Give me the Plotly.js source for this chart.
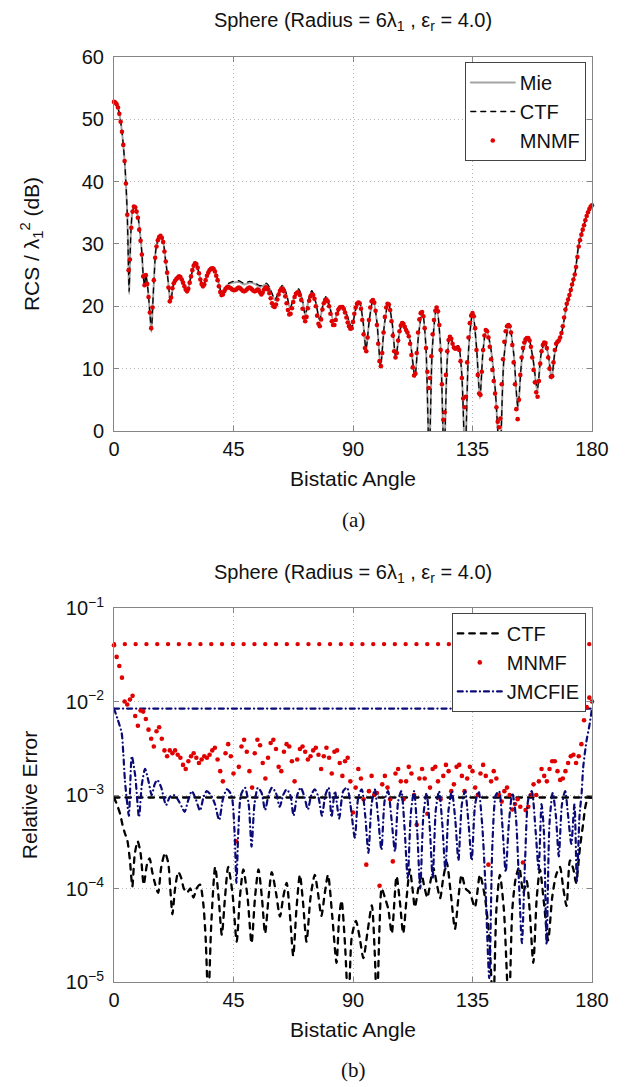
<!DOCTYPE html>
<html><head><meta charset="utf-8">
<script src="https://cdn.plot.ly/plotly-3.0.1.min.js"></script>
<style>
html,body{margin:0;padding:0;background:#fff;}
#chart{width:631px;height:1087px;}
path.js-line{stroke-linecap:round;}
</style>
</head><body><div id="chart"></div>
<script>
// ---------- (a) RCS ----------
const rcsAngles = [0,1,2,3,4,4.5,5,5.4,5.7,6.0,6.4,6.9,7.7,8.5,9.2,9.8,10.5,11.0,11.5,12.0,12.6,13.2,13.7,14.1,14.6,15.1,15.8,16.8,17.7,18.6,19.3,20.2,20.8,21.2,21.7,22.3,23.4,24.6,26.1,27.5,29.0,30.7,32.2,33.5,35.4,37.3,39.1,40.7,42.6,44.8,47,49,51,53,55,57.5,59,60.6,62,63.5,65,66.3,68,69.5,71,72.0,73.3,74.5,76,77.4,78.8,79.9,81.3,82.8,84.5,86.1,87.8,89.5,91.0,92.4,93.8,94.9,96.2,97.6,99.0,100.4,101.8,103.3,104.7,106.1,107.4,108.7,110.2,111.5,113.3,114.7,116.1,117.4,118.7,119.9,121.5,122.9,124.3,125.5,126.5,128.4,129.6,130.9,132.2,133.6,135.1,136.5,137.8,139.0,140.2,141.8,143.5,145.3,146.9,148.8,150.5,152.1,153.9,156.0,157.8,159.4,160.9,162.3,163.6,164.8,166.0,167.2,168.6,170.4,171.7,173.6,174.9,176,177,178,179,180];
const mieDb = [52.8,52.5,50.9,48.0,43.3,39.7,34.7,27.0,22.0,27.0,32.2,35.0,36.1,35.3,33.9,31.8,28.6,25.0,23.4,25.0,23.4,20.6,17.8,15.9,20.3,24.6,29.2,30.9,31.3,30.2,27.8,24.8,22.2,20.6,21.6,23.3,24.3,24.9,23.8,22.3,24.8,27.1,25.0,23.2,25.3,26.3,24.3,21.9,23.4,23.8,23.9,23.5,23.8,23.6,23.1,23.5,22.5,21.0,22.2,23.3,21.8,19.7,21.6,22.7,20.8,18.6,21.0,22.4,20.6,17.8,20.4,21.5,19.8,17.5,19.3,20.0,18.5,16.6,19.5,20.7,17.5,13.0,18.0,21.1,17.5,10.3,17.0,20.5,17.5,11.7,15.5,17.4,16.1,14.5,8.6,15.5,19.2,14.0,-4,13.5,19.9,14.0,-4,11.5,15.1,13.3,13.6,9.5,-4,13.5,19.0,13.5,5.2,13.0,16.3,13.5,7.0,-4,12.0,17.1,12.5,3.5,12.5,15.0,11.5,6.3,12.5,14.2,12.0,8.3,12.5,14.2,15.8,20.0,22.1,25.3,29.6,31.6,33.1,34.5,35.6,36.2];
const ctfDb = [52.8,52.5,50.9,48.0,43.3,39.7,34.7,27.2,22.4,27.2,32.2,35.0,36.1,35.3,33.9,31.8,28.6,25.0,23.4,25.0,23.4,20.6,17.9,16.2,20.3,24.6,29.2,30.9,31.3,30.2,27.8,24.8,22.2,20.7,21.6,23.3,24.3,24.9,23.8,22.4,24.8,27.1,25.0,23.3,25.3,26.3,24.3,22.0,23.5,24.0,24.1,23.7,24.0,23.8,23.3,23.7,22.6,21.1,22.3,23.4,21.9,19.8,21.7,22.8,20.9,18.7,21.1,22.5,20.6,17.9,20.4,21.6,19.8,17.6,19.3,20.1,18.5,16.7,19.5,20.8,17.5,13.2,18.0,21.2,17.5,10.5,17.0,20.6,17.5,11.9,15.5,17.5,16.1,14.5,8.8,15.5,19.3,14.0,-4,13.5,20.0,14.0,-4,11.5,15.2,13.4,13.7,9.5,-4,13.5,19.1,13.5,5.6,13.0,16.4,13.5,7.0,-4,12.0,17.2,12.5,4.0,12.5,15.1,11.5,6.8,12.5,14.3,12.0,8.6,12.5,14.2,15.8,20.0,22.1,25.3,29.6,31.6,33.1,34.5,35.6,36.2];
// MNMF samples every 0.5 degree, 0 ... 180
const mnmfDb = [
52.8,52.7,52.4,51.9,50.9,49.6,48.0,45.9,43.3,39.7,
34.7,25.8,27.5,32.6,35.2,36.0,35.9,35.2,34.2,32.3,
30.5,28.3,24.8,23.4,25.0,23.6,21.5,19.0,16.5,19.8,
24.2,27.8,29.6,30.6,31.1,31.3,31.0,30.3,28.8,27.2,
25.4,23.0,20.8,21.4,22.9,23.7,24.1,24.4,24.6,24.8,
24.7,24.3,23.8,23.2,22.7,22.4,22.8,23.8,24.8,25.8,
26.5,26.9,26.8,26.2,25.3,24.3,23.6,23.2,23.5,24.2,
24.9,25.4,25.8,26.0,26.1,26.0,25.6,24.9,24.2,23.2,
22.3,21.8,21.9,22.4,22.8,23.0,23.1,23.0,22.9,22.7,
22.6,22.6,22.7,22.9,23.0,22.9,22.7,22.5,22.4,22.5,
22.7,22.9,23.0,22.9,22.7,22.5,22.4,22.5,22.7,22.6,
22.2,21.9,22.2,22.7,23.0,23.0,22.7,22.1,21.3,20.5,
20.0,19.9,20.3,21.1,21.9,22.5,22.8,22.8,22.4,21.6,
20.5,19.4,18.7,18.8,19.7,20.7,21.5,22.0,22.2,22.2,
21.8,21.0,19.6,18.2,17.6,18.3,19.7,20.9,21.6,21.9,
21.8,21.2,20.0,18.5,17.2,16.8,17.9,19.5,20.5,21.0,
21.1,20.8,20.0,18.8,17.6,17.0,17.0,17.8,18.8,19.5,
19.8,19.9,19.9,19.6,19.0,18.2,17.4,16.8,16.4,16.5,
17.5,18.8,19.8,20.4,20.6,20.5,19.6,17.8,15.5,13.3,
12.8,15.0,17.8,19.8,20.8,21.0,20.6,19.3,17.0,14.0,
11.2,10.4,12.5,15.8,18.3,19.8,20.4,20.3,19.4,17.6,
15.3,12.8,11.8,12.5,14.5,16.0,16.9,17.3,17.2,16.7,
16.2,15.8,15.2,14.0,12.2,10.2,8.9,9.2,12.5,15.8,
17.9,18.9,19.1,18.4,16.5,13.3,9.5,6.9,8.5,12.0,
15.5,17.8,19.3,19.8,19.2,17.0,13.0,7.5,1.8,3.0,
9.0,12.8,14.6,15.1,14.8,14.0,13.4,13.2,13.3,13.4,
13.0,11.2,8.5,5.2,3.8,5.5,11.0,15.0,17.3,18.5,
18.9,18.4,16.5,13.0,9.0,6.0,5.8,9.5,13.0,15.3,
16.2,16.0,15.0,13.5,11.5,9.8,8.0,6.0,3.8,1.5,
0.6,2.0,7.5,11.5,14.3,16.0,16.8,17.0,16.8,15.8,
13.8,11.0,7.5,3.5,1.9,5.0,9.0,11.8,13.3,14.2,
14.7,14.9,14.9,14.5,13.5,11.8,9.8,7.8,6.2,5.5,
8.0,10.8,12.8,13.8,14.2,14.1,13.3,11.8,10.0,8.7,
8.8,11.0,13.0,14.0,14.3,14.5,15.0,15.7,16.8,18.2,
19.5,20.4,21.1,21.8,22.6,23.5,24.3,25.1,26.3,27.9,
29.6,30.6,31.5,32.3,33.0,33.8,34.5,35.1,35.6,36.0,
36.2];
const mnmfAngles = [];
for (let i = 0; i < mnmfDb.length; i++) mnmfAngles.push(i * 0.5);

// ---------- (b) Relative error ----------
const ctfErrAngles = [0,1.2,2.3,3.2,4.1,5.0,6.0,6.9,7.8,8.9,10.0,11.2,12.4,13.4,14.4,15.2,16.6,17.8,19.2,20.4,21.3,22.0,23.0,24.2,25.3,26.3,27.5,28.7,29.9,31.1,32.4,33.6,34.5,35.5,36.6,38.1,39.4,40.6,41.8,43.0,44.6,46.2,47.4,48.7,50.3,51.8,53.1,54.4,55.7,56.9,58.2,59.4,61.0,62.5,63.7,65.0,66.3,67.5,68.7,70.0,71.2,72.5,74.0,75.6,76.8,78.1,79.4,80.6,82.2,83.8,84.8,85.7,87.0,88.3,89.5,91.1,92.5,93.9,95.5,97.1,98.2,99.0,100.0,100.8,102.0,103.3,104.6,106.4,107.7,108.9,110.2,111.4,112.4,113.3,114.6,115.8,117.0,118.0,119.2,120.3,121.6,122.8,124.0,125.3,126.8,128.4,129.7,130.9,132.4,134.0,135.9,137.8,139.7,141.3,142.8,144.0,145.3,146.8,148.7,150.0,151.3,152.6,154.1,155.4,156.5,157.9,159.2,160.4,161.9,163.5,165.0,166.5,167.9,169.2,170.4,171.7,173.0,174.0,175.5,176.7,177.5,178.6,179.3,180];
const ctfErr = [9.4e-4,7.8e-4,6.3e-4,4.8e-4,3.9e-4,3.3e-4,2.0e-4,1.05e-4,2.3e-4,3.2e-4,2.4e-4,1.1e-4,1.8e-4,2.1e-4,1.5e-4,1.2e-4,9.0e-5,1.7e-4,2.4e-4,1.9e-4,9.0e-5,5.3e-5,1.0e-4,1.5e-4,1.3e-4,1.0e-4,9.0e-5,1.0e-4,8.0e-5,1.0e-4,1.1e-4,7.0e-5,3.0e-5,6.0e-6,4.0e-5,1.7e-4,8.0e-5,3.2e-5,8.0e-5,1.7e-4,9.0e-5,2.7e-5,8.0e-5,1.6e-4,8.0e-5,2.6e-5,8.0e-5,1.6e-4,8.0e-5,3.3e-5,8.0e-5,1.5e-4,9.0e-5,5.0e-5,8.0e-5,1.15e-4,5.0e-5,1.9e-5,6.0e-5,1.4e-4,7.0e-5,2.7e-5,8.0e-5,1.4e-4,9.0e-5,5.1e-5,9.0e-5,1.4e-4,5.0e-5,1.6e-5,5.0e-5,7.4e-5,2.5e-5,5.0e-6,3.0e-5,4.5e-5,3.0e-5,1.8e-5,3.5e-5,6.6e-5,2.0e-5,5.0e-6,4.0e-5,1.0e-4,8.0e-5,6.0e-5,3.3e-5,1.35e-4,7.0e-5,3.3e-5,8.0e-5,1.6e-4,1.0e-4,6.3e-5,1.0e-4,1.4e-4,1.0e-4,8.0e-5,1.2e-4,1.65e-4,1.1e-4,7.9e-5,1.3e-4,1.9e-4,9.0e-5,3.7e-5,8.0e-5,1.4e-4,1.0e-4,9.0e-5,6.3e-5,1.4e-4,8.0e-5,3.0e-5,5.0e-6,6.0e-5,1.4e-4,6.0e-5,5.0e-6,6.0e-5,1.3e-4,1.7e-4,9.0e-5,1.2e-4,6.0e-5,1.6e-5,8.0e-5,1.6e-4,7.0e-5,2.8e-5,8.0e-5,1.4e-4,1.7e-4,1.0e-4,6.5e-5,2.0e-4,1.6e-4,1.15e-4,2.8e-4,5.0e-4,7.5e-4,9.5e-4,9.4e-4,9.4e-4];
const jmcfieAngles = [0,1.5,2.9,3.5,4.1,5.0,5.6,6.7,8.0,9.4,10.5,11.7,13.0,14.2,15.3,16.3,17.8,19.6,21.0,22.5,24.0,25.5,26.6,27.8,29.3,30.8,32.4,33.7,34.9,36.5,38.0,39.6,41.0,42.5,44.2,45.4,46.1,46.8,47.8,49.3,50.7,51.8,52.9,54.2,55.6,56.9,58.2,59.5,61.0,62.4,63.7,65.0,66.4,67.6,69.0,70.3,71.6,73.0,74.3,75.6,77.0,78.3,79.6,80.8,81.9,83.2,84.8,86.3,87.8,89.0,90.7,92.0,93.3,94.6,95.8,97.0,98.2,99.4,100.7,102.0,103.2,104.5,105.8,107.0,108.2,109.4,110.6,111.8,113.0,114.2,115.3,116.5,117.7,118.9,120.0,121.2,122.4,123.6,124.8,126.0,127.2,128.5,129.7,131.0,132.2,133.5,134.7,136.0,137.3,138.6,139.8,141.3,142.5,143.8,145.0,146.3,147.5,148.7,150.0,151.3,152.6,153.6,154.8,156.0,157.3,158.8,159.9,161.0,161.9,162.9,164.0,165.2,166.4,167.5,168.7,169.9,171.0,172.2,173.4,174.3,175.3,176.1,176.7,178.0,179.0,180];
const jmcfieErr = [8.4e-3,6.3e-3,4.6e-3,2.8e-3,1.45e-3,8.0e-4,6.0e-4,2.6e-3,1.6e-3,5.8e-4,1.3e-3,1.9e-3,1.4e-3,1.0e-3,1.3e-3,1.45e-3,1.2e-3,7.8e-4,9.5e-4,1.0e-3,9.0e-4,7.5e-4,6.6e-4,8.5e-4,1.1e-3,9.0e-4,6.8e-4,9.5e-4,1.1e-3,1.0e-3,8.0e-4,5.4e-4,9.0e-4,1.15e-3,1.0e-3,4.0e-4,1.15e-4,4.0e-4,1.0e-3,1.2e-3,8.0e-4,2.8e-4,8.0e-4,1.2e-3,1.05e-3,6.9e-4,1.0e-3,1.2e-3,1.05e-3,7.5e-4,1.0e-3,1.15e-3,1.0e-3,6.0e-4,1.0e-3,1.2e-3,9.8e-4,7.0e-4,1.0e-3,1.15e-3,9.5e-4,6.0e-4,1.0e-3,1.2e-3,5.8e-4,1.1e-3,5.6e-4,1.1e-3,1.2e-3,8.0e-4,3.5e-4,9.5e-4,1.15e-3,6.0e-4,2.4e-4,8.0e-4,1.15e-3,6.0e-4,2.6e-4,9.0e-4,1.1e-3,5.5e-4,2.5e-4,8.5e-4,1.1e-3,4.5e-4,1.3e-4,6.5e-4,1.1e-3,4.0e-4,1.0e-4,6.0e-4,1.05e-3,4.5e-4,1.3e-4,7.0e-4,1.1e-3,5.0e-4,1.6e-4,7.0e-4,1.1e-3,5.5e-4,2.0e-4,8.0e-4,1.1e-3,5.0e-4,2.0e-4,8.0e-4,1.1e-3,5.0e-4,1.2e-4,1.1e-5,3.0e-4,1.0e-3,1.1e-3,4.5e-4,1.5e-4,5.0e-4,1.05e-3,6.0e-4,1.0e-4,2.6e-5,2.0e-4,9.0e-4,1.1e-3,4.0e-4,1.6e-4,8.0e-4,4.0e-4,2.5e-5,5.0e-4,1.05e-3,6.0e-4,2.2e-4,8.0e-4,1.1e-3,6.0e-4,3.0e-4,8.0e-4,1.2e-4,6.0e-4,1.05e-3,2.0e-3,3.9e-3,5.5e-3,8.4e-3];
// MNMF relative error, every 1 degree, 0 ... 180
const mnmfErr = [
4.0e-2,3.0e-2,2.4e-2,1.8e-2,1.0e-2,9.3e-3,1.05e-2,1.15e-2,7.0e-3,5.5e-3,
8.0e-3,7.8e-3,6.5e-3,5.0e-3,4.0e-3,3.3e-3,4.8e-3,5.3e-3,4.0e-3,3.0e-3,
2.6e-3,3.0e-3,2.8e-3,3.0e-3,2.7e-3,2.5e-3,2.1e-3,1.9e-3,2.3e-3,2.6e-3,
2.8e-3,2.5e-3,2.2e-3,2.4e-3,2.6e-3,2.5e-3,2.7e-3,3.0e-3,3.2e-3,2.4e-3,
1.8e-3,1.4e-3,2.8e-3,3.5e-3,2.6e-3,1.7e-3,3.2e-4,2.0e-3,3.3e-3,3.9e-3,
2.9e-3,1.8e-3,1.2e-3,2.8e-3,3.9e-3,3.4e-3,2.2e-3,1.5e-3,2.5e-3,3.6e-3,
3.9e-3,3.1e-3,2.0e-3,1.8e-3,2.9e-3,3.5e-3,3.3e-3,2.3e-3,1.4e-3,2.4e-3,
3.1e-3,3.3e-3,2.9e-3,2.4e-3,2.6e-3,3.0e-3,3.2e-3,2.7e-3,1.9e-3,2.6e-3,
3.2e-3,2.5e-3,1.7e-3,2.9e-3,3.0e-3,2.2e-3,1.6e-3,2.3e-3,2.5e-3,1.4e-3,
6.5e-4,1.2e-3,1.9e-3,1.5e-3,9.0e-4,1.8e-4,1.1e-3,1.6e-3,1.0e-3,1.05e-3,
1.07e-4,1.3e-3,1.6e-3,1.2e-3,9.0e-4,1.95e-4,1.7e-3,1.9e-3,1.4e-3,9.0e-4,
1.4e-3,2.0e-3,1.7e-3,1.0e-3,4.8e-4,1.5e-3,1.9e-3,1.5e-3,6.3e-4,1.2e-3,
1.9e-3,2.0e-3,1.4e-3,9.0e-4,1.6e-3,2.1e-3,1.8e-3,1.1e-3,1.3e-3,2.0e-3,
2.1e-3,1.6e-3,1.1e-3,1.5e-3,2.0e-3,1.8e-3,1.2e-3,1.0e-3,1.7e-3,2.1e-3,
1.6e-3,1.8e-4,1.4e-3,1.8e-3,1.5e-3,1.0e-3,8.5e-4,1.1e-3,1.2e-3,1.0e-3,
7.0e-4,8.0e-4,9.0e-4,7.5e-4,1.9e-4,6.9e-4,7.5e-4,1.0e-3,1.3e-3,1.0e-3,
1.4e-3,1.9e-3,1.6e-3,1.4e-3,1.9e-3,2.3e-3,2.3e-3,1.8e-3,1.45e-3,1.5e-3,
1.8e-3,2.2e-3,2.6e-3,2.7e-3,2.2e-3,2.6e-3,3.5e-3,6.3e-3,8.7e-3,1.1e-2,
1.0e-2];
const mnmfErrAngles = [];
for (let i = 0; i < mnmfErr.length; i++) mnmfErrAngles.push(i);

// overall error levels (horizontal lines)
const levelCTF = 9.4e-4;
const levelMNMF = 4.1e-2;
const levelJMCFIE = 8.4e-3;
const levelSpan = [0, 180];

const angleTicks = [0, 45, 90, 135, 180];
const errTicks = [1e-5, 1e-4, 1e-3, 1e-2, 1e-1];
const errTickText = ['10<sup>−5</sup>','10<sup>−4</sup>','10<sup>−3</sup>','10<sup>−2</sup>','10<sup>−1</sup>'];
const titleText = 'Sphere (Radius = 6λ<sub>1</sub> , ε<sub>r</sub> = 4.0)';

// ---------- styling ----------
const FONT = 'Liberation Sans, Arial, Helvetica, sans-serif';
const RED = '#e00000', NAVY = '#0b0b78';

const traces = [
  {x: rcsAngles, y: mieDb, xaxis:'x', yaxis:'y', name:'Mie', mode:'lines',
   line:{color:'#a3a3a3', width:2, shape:'spline', smoothing:0.8}, legend:'legend'},
  {x: rcsAngles, y: ctfDb, xaxis:'x', yaxis:'y', name:'CTF', mode:'lines',
   line:{color:'#000', width:1.3, dash:'5px,5px', shape:'spline', smoothing:0.8}, legend:'legend'},
  {x: mnmfAngles, y: mnmfDb, xaxis:'x', yaxis:'y', name:'MNMF', mode:'markers', cliponaxis:false,
   marker:{color:RED, size:4.6}, legend:'legend'},

  {x: levelSpan, y: [levelCTF, levelCTF], xaxis:'x2', yaxis:'y2', mode:'lines', showlegend:false, hoverinfo:'skip',
   line:{color:'#000', width:2.3, dash:'5.5px,6px'}},
  {x: levelSpan, y: [levelJMCFIE, levelJMCFIE], xaxis:'x2', yaxis:'y2', mode:'lines', showlegend:false, hoverinfo:'skip',
   line:{color:NAVY, width:2.3, dash:'5px,4px,0.1px,4px'}},
  {x: levelSpan, y: [levelMNMF, levelMNMF], xaxis:'x2', yaxis:'y2', mode:'lines', showlegend:false, hoverinfo:'skip',
   line:{color:RED, width:4.3, dash:'0.1px,10.7px'}},

  {x: ctfErrAngles, y: ctfErr, xaxis:'x2', yaxis:'y2', name:'CTF', mode:'lines',
   line:{color:'#000', width:2.3, dash:'5.5px,6px', shape:'spline', smoothing:0.7}, legend:'legend2'},
  {x: mnmfErrAngles, y: mnmfErr, xaxis:'x2', yaxis:'y2', name:'MNMF', mode:'markers', cliponaxis:false,
   marker:{color:RED, size:4.6}, legend:'legend2'},
  {x: jmcfieAngles, y: jmcfieErr, xaxis:'x2', yaxis:'y2', name:'JMCFIE', mode:'lines',
   line:{color:NAVY, width:2.2, dash:'5px,4px,0.1px,4px', shape:'spline', smoothing:0.7}, legend:'legend2'}
];

const axisBase = {
  showline:true, linecolor:'#858585', linewidth:1, mirror:'ticks',
  ticks:'inside', ticklen:5, tickwidth:1, tickcolor:'#858585',
  showgrid:true, gridcolor:'#b8b8b8', griddash:'1px,3px', gridwidth:1,
  zeroline:false, tickfont:{family:FONT, size:20, color:'#111'}
};
const xTitle = {text:'Bistatic Angle', font:{family:FONT, size:21, color:'#111'}, standoff:12};

const layout = {
  width:631, height:1087,
  margin:{l:114, r:39, t:57, b:105},
  paper_bgcolor:'#fff', plot_bgcolor:'#fff',
  font:{family:FONT, color:'#111', size:20},
  showlegend:true,
  title:{text:titleText, font:{family:FONT, size:20, color:'#111'}, xref:'paper', x:0.5, xanchor:'center',
         yref:'container', y:1-20/1087, yanchor:'middle'},
  xaxis:Object.assign({}, axisBase, {anchor:'y', range:[0,180], tickvals:angleTicks, title:xTitle}),
  yaxis:Object.assign({}, axisBase, {anchor:'x', domain:[0.5957,1], range:[0,60], tick0:0, dtick:10, ticklabelstandoff:5,
         title:{text:'RCS / λ<sub>1</sub><sup>2</sup> (dB)', font:{family:FONT, size:21, color:'#111'}, standoff:36}}),
  xaxis2:Object.assign({}, axisBase, {anchor:'y2', range:[0,180], tickvals:angleTicks, title:xTitle}),
  yaxis2:Object.assign({}, axisBase, {anchor:'x2', domain:[0,0.4043], type:'log', range:[-5,-1],
         tickvals:errTicks, ticktext:errTickText, ticklabelstandoff:5,
         title:{text:'Relative Error', font:{family:FONT, size:21, color:'#111'}, standoff:22}}),
  legend:{x:0.987, xanchor:'right', y:0.9946, yanchor:'top', bgcolor:'#fff', bordercolor:'#444', borderwidth:1,
          font:{family:FONT, size:20, color:'#111'}, itemwidth:44, tracegroupgap:0},
  legend2:{x:0.987, xanchor:'right', y:0.399, yanchor:'top', bgcolor:'#fff', bordercolor:'#444', borderwidth:1,
          font:{family:FONT, size:20, color:'#111'}, itemwidth:44, tracegroupgap:0},
  annotations:[
    {text:titleText, xref:'paper', yref:'paper', x:0.5, y:(982-573)/925, xanchor:'center', yanchor:'middle',
     showarrow:false, font:{family:FONT, size:20, color:'#111'}},
    {text:'(a)', xref:'paper', yref:'paper', x:0.5, y:(982-520)/925, xanchor:'center', yanchor:'middle',
     showarrow:false, font:{family:'Liberation Serif, Times New Roman, serif', size:21, color:'#111'}},
    {text:'(b)', xref:'paper', yref:'paper', x:0.5, y:(982-1070)/925, xanchor:'center', yanchor:'middle',
     showarrow:false, font:{family:'Liberation Serif, Times New Roman, serif', size:21, color:'#111'}}
  ]
};

Plotly.newPlot('chart', traces, layout, {displayModeBar:false});
</script></body></html>
